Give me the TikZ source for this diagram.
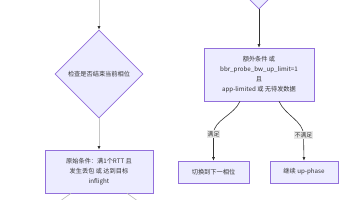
\documentclass[tikz,border=0pt]{standalone}
\usepackage{fontspec}
\setmainfont{Noto Sans CJK SC}
\usetikzlibrary{shapes.geometric,arrows.meta}
\definecolor{nfill}{HTML}{ECECFF}
\definecolor{nstroke}{HTML}{9370DB}
\definecolor{ink}{HTML}{333333}
\definecolor{lbl}{HTML}{E8E8E8}
\begin{document}
\begin{tikzpicture}[x=1pt,y=-1pt,
  font=\fontsize{6.2}{9.8}\selectfont, text=ink,
  box/.style={draw=nstroke, fill=nfill, line width=0.6pt, rectangle, inner sep=0pt, align=center},
  dia/.style={draw=nstroke, fill=nfill, line width=0.6pt, diamond, inner sep=0pt,
    minimum width=88pt, minimum height=88pt, align=center},
  edge/.style={draw=ink, line width=0.6pt, -{Latex[length=3.5pt,width=3pt]}},
  ledge/.style={draw=gray!45, line width=0.7pt, -{Latex[length=3.5pt,width=3pt,color=ink]}},
  elabel/.style={fill=lbl, inner sep=1pt, font=\fontsize{5.8}{6}\selectfont}]
\useasboundingbox (0,0) rectangle (356,200);
\clip (0,0) rectangle (356,200);
% left column
\coordinate (in1) at (99,-2);
\node[dia] (d1) at (99,74) {检查是否结束当前相位};
\node[box, minimum width=108pt, minimum height=43pt] (b1) at (99,171.5)
  {原始条件：满1个RTT 且\\发生丢包 或 达到目标\\inflight};
\coordinate (o1) at (56,204);
\coordinate (o2) at (142,204);
\draw[ledge] (in1) -- (d1.north);
\draw[ledge] (d1.south) -- (b1.north);
\draw[draw=gray!55, line width=0.6pt] ([xshift=-28pt]b1.south) -- (o1);
\draw[draw=gray!55, line width=0.6pt] ([xshift=28pt]b1.south) -- (o2);
% right column
\node[dia] (d2) at (259,-35) {};
\node[box, minimum width=110pt, minimum height=53pt] (b2) at (259,74.5)
  {额外条件 或\\bbr\_probe\_bw\_up\_limit=1\\且\\app-limited 或 无待发数据};
\node[box, minimum width=71pt, minimum height=22pt] (c1) at (213.5,172) {切换到下一相位};
\node[box, minimum width=68pt, minimum height=22pt] (c2) at (304,172) {继续 up-phase};
\draw[edge] (d2.south) -- (b2.north);
\draw[edge] ([xshift=-19pt]b2.south) .. controls +(-6,14) and +(0,-14) .. (213.5,134)
  node[elabel] {满足} -- (c1.north);
\draw[edge] ([xshift=20pt]b2.south) .. controls +(6,14) and +(0,-14) .. (303.5,135)
  node[elabel] {不满足} -- (c2.north);
\end{tikzpicture}
\end{document}
